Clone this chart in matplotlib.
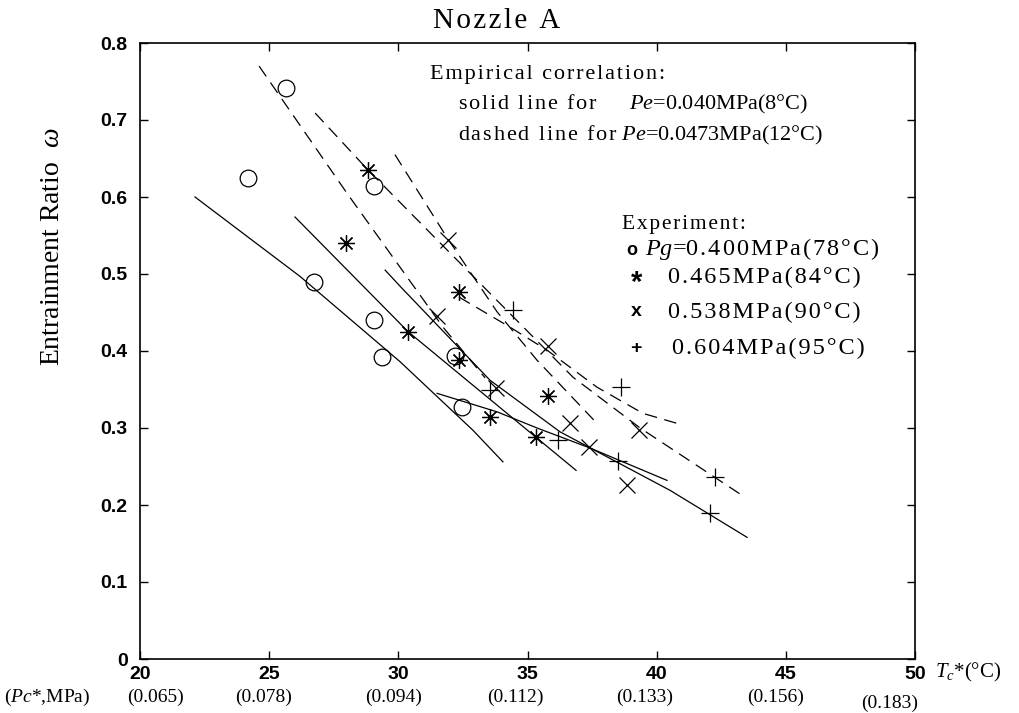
import matplotlib
matplotlib.use('Agg')
import matplotlib.pyplot as plt

plt.rcParams['mathtext.fontset'] = 'custom'
plt.rcParams['mathtext.rm'] = 'Liberation Serif'
plt.rcParams['mathtext.it'] = 'Liberation Serif:italic'

SERIF = 'Liberation Serif'
SANS = 'Liberation Sans'

# --- experiment points (Tc*, entrainment ratio) ---
pg400_x = [25.65, 24.18, 29.06, 26.74, 29.06, 29.37, 32.20, 32.47]
pg400_y = [0.742, 0.625, 0.614, 0.490, 0.440, 0.392, 0.394, 0.327]

pg465_x = [28.83, 27.98, 32.35, 30.38, 32.35, 35.80, 33.55, 35.33]
pg465_y = [0.635, 0.540, 0.477, 0.425, 0.388, 0.342, 0.314, 0.288]

pg538_x = [31.92, 31.50, 35.80, 33.78, 36.65, 39.32, 37.38, 38.85]
pg538_y = [0.544, 0.445, 0.406, 0.352, 0.306, 0.297, 0.275, 0.226]

pg604_x = [34.44, 33.55, 38.62, 36.18, 38.51, 42.26, 42.07]
pg604_y = [0.453, 0.349, 0.353, 0.284, 0.257, 0.236, 0.190]

# --- empirical correlation, solid lines (Pe=0.040MPa) ---
s1_x = [22.13, 26.19, 30.07, 32.89, 34.05]
s1_y = [0.600, 0.497, 0.386, 0.297, 0.256]
s2_x = [26.00, 30.38, 36.88]
s2_y = [0.574, 0.425, 0.245]
s3_x = [29.49, 30.07, 33.55, 36.26, 40.52, 43.50]
s3_y = [0.505, 0.484, 0.362, 0.295, 0.219, 0.158]
s4_x = [31.50, 33.82, 35.37, 37.42, 40.40]
s4_y = [0.345, 0.321, 0.300, 0.274, 0.232]

# --- empirical correlation, dashed lines (Pe=0.0473MPa) ---
d1_x = [24.61, 28.01, 31.73, 33.36]
d1_y = [0.770, 0.605, 0.431, 0.365]
d2_x = [26.78, 28.83, 33.16, 36.76, 39.36, 43.42]
d2_y = [0.709, 0.635, 0.488, 0.366, 0.300, 0.210]
d3_x = [29.87, 31.89, 33.82, 35.37, 37.69]
d3_y = [0.655, 0.547, 0.451, 0.388, 0.306]
d4_x = [32.35, 34.32, 35.76, 37.69, 39.47, 40.79]
d4_y = [0.470, 0.431, 0.401, 0.353, 0.319, 0.306]

x_ticks = [20, 25, 30, 35, 40, 45, 50]
pc_labels = ['(0.065)', '(0.078)', '(0.094)', '(0.112)', '(0.133)', '(0.156)', '(0.183)']
y_ticks = [0, 0.1, 0.2, 0.3, 0.4, 0.5, 0.6, 0.7, 0.8]
y_labels = ['0', '0.1', '0.2', '0.3', '0.4', '0.5', '0.6', '0.7', '0.8']

W, H = 1019, 713
fig = plt.figure(figsize=(W / 100, H / 100), dpi=100)
ax = fig.add_axes([140 / W, 1 - 659 / H, 775 / W, 616 / H])

lw = 0.9
for xs, ys in [(s1_x, s1_y), (s2_x, s2_y), (s3_x, s3_y), (s4_x, s4_y)]:
    ax.plot(xs, ys, color='k', lw=lw)
for xs, ys in [(d1_x, d1_y), (d2_x, d2_y), (d3_x, d3_y), (d4_x, d4_y)]:
    ax.plot(xs, ys, color='k', lw=lw, dashes=(10, 6))

ax.plot(pg400_x, pg400_y, 'o', mfc='none', mec='k', ms=12, mew=0.9, ls='none')
ax.plot(pg465_x, pg465_y, marker=(8, 2, 0), color='k', ms=12, mew=0.9, ls='none')
ax.plot(pg538_x, pg538_y, 'x', color='k', ms=11, mew=0.9, ls='none')
ax.plot(pg604_x, pg604_y, '+', color='k', ms=13, mew=0.9, ls='none')

ax.set_xlim(20, 50)
ax.set_ylim(0, 0.8)
ax.set_xticks(x_ticks)
ax.set_xticklabels([str(t) for t in x_ticks], fontfamily=SANS, fontweight='bold', fontsize=14)
ax.set_yticks(y_ticks)
ax.set_yticklabels(y_labels, fontfamily=SANS, fontweight='bold', fontsize=14)
ax.tick_params(direction='in', length=6, width=1, top=True, right=True)
ax.tick_params(axis='y', pad=9)
ax.tick_params(axis='x', pad=5)
for s in ax.spines.values():
    s.set_linewidth(1.2)


def spaced(s):
    # the original typesetting is slightly letter-spaced
    return '\u200a'.join(s)


# pressure labels under the temperature ticks
pc_shift = [0.6, -0.2, -0.2, -0.45, -0.45, -0.4, -1.0]
pc_y = [-0.062, -0.062, -0.062, -0.062, -0.062, -0.062, -0.072]
for t, lab, dx, yy in zip(x_ticks, pc_labels, pc_shift, pc_y):
    ax.text(t + dx, yy, lab, transform=ax.get_xaxis_transform(),
            ha='center', va='center', fontfamily=SERIF, fontsize=14)


def px(x, y):
    return x / W, 1 - y / H


fig.text(*px(4, 697), r'($Pc$*,MPa)', ha='left', va='center', fontfamily=SERIF, fontsize=14)
fig.text(*px(935, 672), r'$T_c$*(°C)', ha='left', va='center', fontfamily=SERIF, fontsize=15)

fig.text(*px(497, 21), spaced('Nozzle A'), ha='center', va='center', fontfamily=SERIF, fontsize=21)
fig.text(*px(53, 247), r'Entrainment Ratio  $\omega$', rotation=90, ha='center', va='center',
         fontfamily=SERIF, fontsize=20)

fig.text(*px(430, 75), spaced('Empirical correlation:'), ha='left', va='center',
         fontfamily=SERIF, fontsize=16)
fig.text(*px(458, 104), spaced('solid line for') + r'      $Pe$=0.040MPa(8°C)', ha='left',
         va='center', fontfamily=SERIF, fontsize=16)
fig.text(*px(458, 135), spaced('dashed line for') + r' $Pe$=0.0473MPa(12°C)', ha='left',
         va='center', fontfamily=SERIF, fontsize=16)

fig.text(*px(622, 225), spaced('Experiment:'), ha='left', va='center', fontfamily=SERIF, fontsize=15.5)
fig.text(*px(632, 250), 'o', ha='center', va='center', fontfamily=SANS, fontweight='bold', fontsize=13)
fig.text(*px(645, 249), r'$Pg$=' + spaced('0.400MPa(78°C)'), ha='left', va='center',
         fontfamily=SERIF, fontsize=17.5)
fig.text(*px(637, 283), '*', ha='center', va='center', fontfamily=SANS, fontweight='bold', fontsize=21)
fig.text(*px(668, 277), spaced('0.465MPa(84°C)'), ha='left', va='center', fontfamily=SERIF, fontsize=17.5)
fig.text(*px(636, 312), 'x', ha='center', va='center', fontfamily=SANS, fontweight='bold', fontsize=14)
fig.text(*px(668, 312), spaced('0.538MPa(90°C)'), ha='left', va='center', fontfamily=SERIF, fontsize=17.5)
fig.text(*px(636, 348), '+', ha='center', va='center', fontfamily=SANS, fontweight='bold', fontsize=14)
fig.text(*px(672, 348), spaced('0.604MPa(95°C)'), ha='left', va='center', fontfamily=SERIF, fontsize=17.5)

fig.savefig('out.png', dpi=100)
